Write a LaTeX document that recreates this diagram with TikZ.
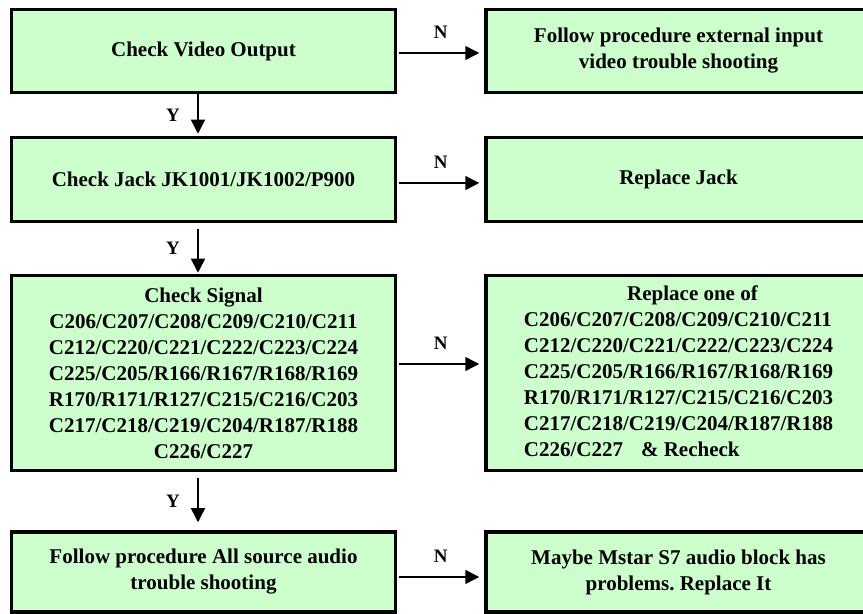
\documentclass[tikz,border=0pt]{standalone}
\usepackage{fontspec}
\setmainfont{Liberation Serif}
\usepackage{tikz}
\usetikzlibrary{arrows.meta,positioning}
\definecolor{boxgreen}{HTML}{CCFFCC}
\frenchspacing

\begin{document}
\begin{tikzpicture}[x=0.5pt, y=-0.5pt, node distance=43.5pt, every node/.style={font=\fontsize{10.5}{13}\selectfont\bfseries}, stepbox/.style={draw, line width=1.75pt, fill=boxgreen, align=center, minimum width=192pt, inner sep=0pt}, fixbox/.style={stepbox, minimum width=192.5pt}, arr/.style={-{Triangle[length=7pt,width=7pt]}, line width=0.75pt}, yn/.style={font=\fontsize{9.5}{11}\selectfont\bfseries, inner sep=0pt}]
\useasboundingbox (0,0) rectangle (863,614);
% left column: checks
\node[stepbox, minimum height=41.5pt] (video) at (203.5,51) {Check Video Output};
\node[stepbox, minimum height=42pt] (jack) at (203.5,179.5) {Check Jack JK1001/JK1002/P900};
\node[stepbox, minimum height=97.5pt] (signal) at (203.5,373) {Check Signal\\C206/C207/C208/C209/C210/C211\\C212/C220/C221/C222/C223/C224\\C225/C205/R166/R167/R168/R169\\R170/R171/R127/C215/C216/C203\\C217/C218/C219/C204/R187/R188\\C226/C227};
\node[stepbox, minimum height=40pt] (audio) at (203.5,572) {Follow procedure All source audio\\trouble shooting};
% right column: actions
\node[fixbox, right=of video, minimum height=41.5pt] (extinput) {Follow procedure external input\\video trouble shooting};
\node[fixbox, right=of jack, minimum height=42pt] (repljack) {Replace Jack};
\node[fixbox, right=of signal, minimum height=97.5pt] (replparts) {\begin{tabular}{@{}l@{}}\multicolumn{1}{@{}c@{}}{\hspace*{14pt}Replace one of}\\C206/C207/C208/C209/C210/C211\\C212/C220/C221/C222/C223/C224\\C225/C205/R166/R167/R168/R169\\R170/R171/R127/C215/C216/C203\\C217/C218/C219/C204/R187/R188\\C226/C227\hspace{9pt}\& Recheck\end{tabular}};
\node[fixbox, right=of audio, minimum height=40pt] (mstar) {Maybe Mstar S7 audio block has\\problems. Replace It};
% N arrows
\draw[arr, shorten <=1pt, shorten >=2.5pt] ([yshift=-1pt]video.east) -- ([yshift=-1pt]extinput.west) node[yn, midway, yshift=10.5pt] {N};
\draw[arr, shorten <=1pt, shorten >=2.5pt] ([yshift=-1.75pt]jack.east) -- ([yshift=-1.75pt]repljack.west) node[yn, midway, yshift=10.5pt] {N};
\draw[arr, shorten <=1pt, shorten >=2.5pt] ([yshift=4.5pt]signal.east) -- ([yshift=4.5pt]replparts.west) node[yn, midway, yshift=10.5pt] {N};
\draw[arr, shorten <=1pt, shorten >=2.5pt] ([yshift=-2.5pt]audio.east) -- ([yshift=-2.5pt]mstar.west) node[yn, midway, yshift=10.5pt] {N};
% Y arrows
\draw[arr, shorten >=1pt] ([xshift=-2.75pt]video.south) -- ([xshift=-2.75pt]jack.north) node[yn, midway, xshift=-12.5pt] {Y};
\draw[arr, shorten <=3pt, shorten >=0.5pt] ([xshift=-2.75pt]jack.south) -- ([xshift=-2.75pt]signal.north) node[yn, midway, xshift=-12.5pt] {Y};
\draw[arr, shorten <=3pt, shorten >=4pt] ([xshift=-2.75pt]signal.south) -- ([xshift=-2.75pt]audio.north) node[yn, midway, xshift=-12.5pt] {Y};
\end{tikzpicture}
\end{document}
